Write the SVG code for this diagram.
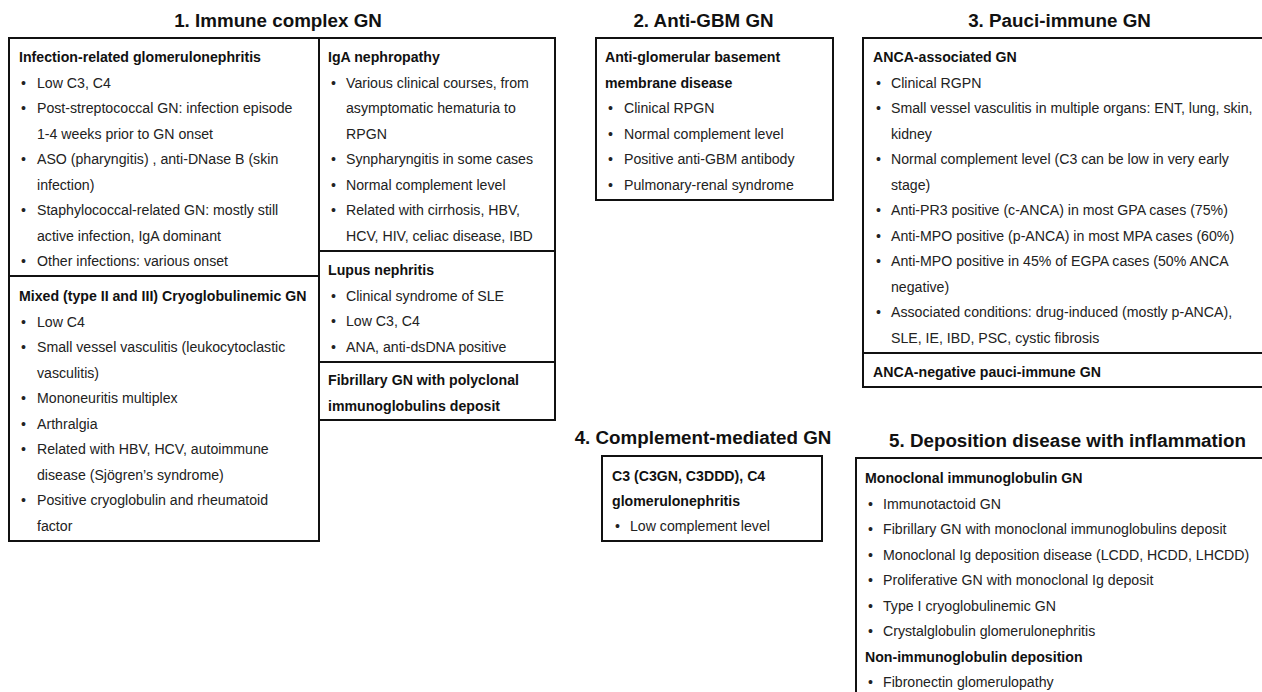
<svg xmlns="http://www.w3.org/2000/svg" width="1262" height="692" viewBox="0 0 1262 692">
<style>
.t{font-family:"Liberation Sans",Arial,sans-serif;font-weight:bold;font-size:18.8px;fill:#111;text-anchor:middle}
.h{font-family:"Liberation Sans",Arial,sans-serif;font-weight:bold;font-size:14.15px;fill:#111}
.b{font-family:"Liberation Sans",Arial,sans-serif;font-size:14.15px;fill:#222}
.box{fill:#fff;stroke:#111;stroke-width:2}
.div{stroke:#111;stroke-width:2}
</style>
<rect width="1262" height="692" fill="#fff"/>

<g id="titles">
<text class="t" x="278" y="27">1. Immune complex GN</text>
<text class="t" x="703.5" y="27">2. Anti-GBM GN</text>
<text class="t" x="1059.5" y="27">3. Pauci-immune GN</text>
<text class="t" x="703" y="444">4. Complement-mediated GN</text>
<text class="t" x="1067.5" y="447">5. Deposition disease with inflammation</text>
</g>

<g id="immune-left">
<rect class="box" x="9" y="38" width="310" height="503"/>
<line class="div" x1="9" y1="276" x2="319" y2="276"/>
<text class="h" x="19" y="62">Infection-related glomerulonephritis</text>
<g class="b">
<text x="21" y="87.5">•</text><text x="37" y="87.5">Low C3, C4</text>
<text x="21" y="113">•</text><text x="37" y="113">Post-streptococcal GN: infection episode</text>
<text x="37" y="138.5">1-4 weeks prior to GN onset</text>
<text x="21" y="164">•</text><text x="37" y="164">ASO (pharyngitis) , anti-DNase B (skin</text>
<text x="37" y="189.5">infection)</text>
<text x="21" y="215">•</text><text x="37" y="215">Staphylococcal-related GN: mostly still</text>
<text x="37" y="240.5">active infection, IgA dominant</text>
<text x="21" y="266">•</text><text x="37" y="266">Other infections: various onset</text>
</g>
<text class="h" x="19" y="301">Mixed (type II and III) Cryoglobulinemic GN</text>
<g class="b">
<text x="21" y="326.5">•</text><text x="37" y="326.5">Low C4</text>
<text x="21" y="352">•</text><text x="37" y="352">Small vessel vasculitis (leukocytoclastic</text>
<text x="37" y="377.5">vasculitis)</text>
<text x="21" y="403">•</text><text x="37" y="403">Mononeuritis multiplex</text>
<text x="21" y="428.5">•</text><text x="37" y="428.5">Arthralgia</text>
<text x="21" y="454">•</text><text x="37" y="454">Related with HBV, HCV, autoimmune</text>
<text x="37" y="479.5">disease (Sjögren’s syndrome)</text>
<text x="21" y="505">•</text><text x="37" y="505">Positive cryoglobulin and rheumatoid</text>
<text x="37" y="530.5">factor</text>
</g>
</g>

<g id="immune-middle">
<rect class="box" x="319" y="38" width="236" height="382"/>
<line class="div" x1="319" y1="251" x2="555" y2="251"/>
<line class="div" x1="319" y1="362" x2="555" y2="362"/>
<text class="h" x="328" y="62">IgA nephropathy</text>
<g class="b">
<text x="331" y="87.5">•</text><text x="346" y="87.5">Various clinical courses, from</text>
<text x="346" y="113">asymptomatic hematuria to</text>
<text x="346" y="138.5">RPGN</text>
<text x="331" y="164">•</text><text x="346" y="164">Synpharyngitis in some cases</text>
<text x="331" y="189.5">•</text><text x="346" y="189.5">Normal complement level</text>
<text x="331" y="215">•</text><text x="346" y="215">Related with cirrhosis, HBV,</text>
<text x="346" y="240.5">HCV, HIV, celiac disease, IBD</text>
</g>
<text class="h" x="328" y="275">Lupus nephritis</text>
<g class="b">
<text x="331" y="300.5">•</text><text x="346" y="300.5">Clinical syndrome of SLE</text>
<text x="331" y="326">•</text><text x="346" y="326">Low C3, C4</text>
<text x="331" y="351.5">•</text><text x="346" y="351.5">ANA, anti-dsDNA positive</text>
</g>
<text class="h" x="328" y="385">Fibrillary GN with polyclonal</text>
<text class="h" x="328" y="410.5">immunoglobulins deposit</text>
</g>

<g id="anti-gbm">
<rect class="box" x="596" y="38" width="237" height="162"/>
<text class="h" x="605" y="62">Anti-glomerular basement</text>
<text class="h" x="605" y="87.5">membrane disease</text>
<g class="b">
<text x="608" y="113">•</text><text x="624" y="113">Clinical RPGN</text>
<text x="608" y="138.5">•</text><text x="624" y="138.5">Normal complement level</text>
<text x="608" y="164">•</text><text x="624" y="164">Positive anti-GBM antibody</text>
<text x="608" y="189.5">•</text><text x="624" y="189.5">Pulmonary-renal syndrome</text>
</g>
</g>

<g id="pauci-immune">
<rect class="box" x="863" y="38" width="420" height="349"/>
<line class="div" x1="863" y1="353" x2="1262" y2="353"/>
<text class="h" x="873" y="62">ANCA-associated GN</text>
<g class="b">
<text x="876" y="87.5">•</text><text x="891" y="87.5">Clinical RGPN</text>
<text x="876" y="113">•</text><text x="891" y="113">Small vessel vasculitis in multiple organs: ENT, lung, skin,</text>
<text x="891" y="138.5">kidney</text>
<text x="876" y="164">•</text><text x="891" y="164">Normal complement level (C3 can be low in very early</text>
<text x="891" y="189.5">stage)</text>
<text x="876" y="215">•</text><text x="891" y="215">Anti-PR3 positive (c-ANCA) in most GPA cases (75%)</text>
<text x="876" y="240.5">•</text><text x="891" y="240.5">Anti-MPO positive (p-ANCA) in most MPA cases (60%)</text>
<text x="876" y="266">•</text><text x="891" y="266">Anti-MPO positive in 45% of EGPA cases (50% ANCA</text>
<text x="891" y="291.5">negative)</text>
<text x="876" y="317">•</text><text x="891" y="317">Associated conditions: drug-induced (mostly p-ANCA),</text>
<text x="891" y="342.5">SLE, IE, IBD, PSC, cystic fibrosis</text>
</g>
<text class="h" x="873" y="377">ANCA-negative pauci-immune GN</text>
</g>

<g id="complement">
<rect class="box" x="602" y="456" width="220" height="85"/>
<text class="h" x="612" y="480.5">C3 (C3GN, C3DDD), C4</text>
<text class="h" x="612" y="505.5">glomerulonephritis</text>
<g class="b">
<text x="615" y="530.5">•</text><text x="630" y="530.5">Low complement level</text>
</g>
</g>

<g id="deposition">
<rect class="box" x="856" y="458" width="420" height="300"/>
<text class="h" x="865" y="483">Monoclonal immunoglobulin GN</text>
<g class="b">
<text x="868" y="508.5">•</text><text x="883" y="508.5">Immunotactoid GN</text>
<text x="868" y="534">•</text><text x="883" y="534">Fibrillary GN with monoclonal immunoglobulins deposit</text>
<text x="868" y="559.5">•</text><text x="883" y="559.5">Monoclonal Ig deposition disease (LCDD, HCDD, LHCDD)</text>
<text x="868" y="585">•</text><text x="883" y="585">Proliferative GN with monoclonal Ig deposit</text>
<text x="868" y="610.5">•</text><text x="883" y="610.5">Type I cryoglobulinemic GN</text>
<text x="868" y="636">•</text><text x="883" y="636">Crystalglobulin glomerulonephritis</text>
</g>
<text class="h" x="865" y="661.5">Non-immunoglobulin deposition</text>
<g class="b">
<text x="868" y="687">•</text><text x="883" y="687">Fibronectin glomerulopathy</text>
</g>
</g>

<g id="connectors"></g>
</svg>
